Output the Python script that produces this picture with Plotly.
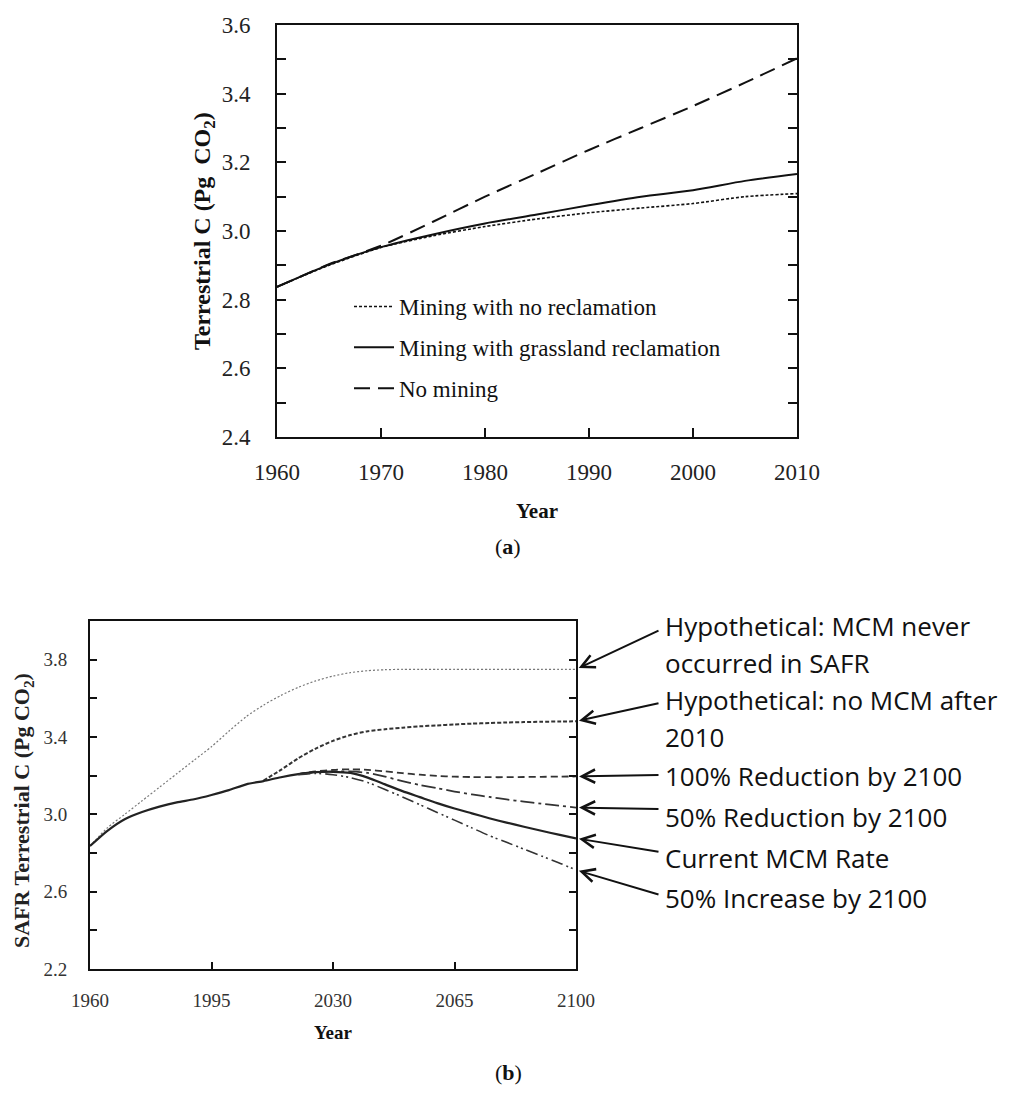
import plotly.graph_objects as go

# ---------------- data: panel (a) ----------------
years_a = [1960, 1965, 1970, 1975, 1980, 1985, 1990, 1995, 2000, 2005, 2010]
no_reclamation = [2.837, 2.900, 2.952, 2.986, 3.013, 3.035, 3.053, 3.067, 3.080, 3.100, 3.109]
grassland_reclamation = [2.837, 2.902, 2.953, 2.990, 3.022, 3.048, 3.075, 3.100, 3.119, 3.146, 3.166]
no_mining = [2.837, 2.903, 2.957, 3.027, 3.100, 3.168, 3.236, 3.300, 3.364, 3.432, 3.503]
names_a = ["Mining with no reclamation", "Mining with grassland reclamation", "No mining"]

# ---------------- data: panel (b) ----------------
years_b = [1960, 1965, 1970, 1975, 1980, 1985, 1990, 1995, 2000, 2005, 2010, 2015, 2020, 2025,
           2030, 2035, 2040, 2045, 2050, 2055, 2060, 2065, 2070, 2075, 2080, 2085, 2090, 2095, 2100]
current_rate = [2.836, 2.915, 2.975, 3.012, 3.040, 3.062, 3.078, 3.100, 3.125, 3.155, 3.172, 3.192,
                3.208, 3.218, 3.220, 3.214, 3.190, 3.155, 3.120, 3.089, 3.058, 3.030, 3.005, 2.980,
                2.957, 2.936, 2.915, 2.895, 2.876]
never_occurred = [2.836, 2.930, 3.000, 3.070, 3.140, 3.210, 3.280, 3.350, 3.430, 3.505, 3.565, 3.615,
                  3.657, 3.690, 3.715, 3.733, 3.743, 3.748, 3.750, 3.750, 3.750, 3.750, 3.750, 3.750,
                  3.750, 3.750, 3.750, 3.750, 3.750]
years_after2010 = [2010, 2015, 2020, 2025, 2030, 2035, 2040, 2045, 2050, 2055, 2060, 2065, 2070,
                   2075, 2080, 2085, 2090, 2095, 2100]
no_mcm_after2010 = [3.175, 3.230, 3.290, 3.340, 3.380, 3.410, 3.430, 3.440, 3.448, 3.455, 3.460,
                    3.465, 3.469, 3.472, 3.475, 3.477, 3.479, 3.480, 3.481]
years_after2020 = [2020, 2025, 2030, 2035, 2040, 2045, 2050, 2055, 2060, 2065, 2070, 2075, 2080,
                   2085, 2090, 2095, 2100]
reduction_100 = [3.208, 3.222, 3.230, 3.233, 3.230, 3.222, 3.213, 3.205, 3.199, 3.195, 3.193, 3.192,
                 3.192, 3.193, 3.194, 3.195, 3.196]
reduction_50 = [3.208, 3.218, 3.222, 3.222, 3.214, 3.195, 3.172, 3.152, 3.135, 3.118, 3.103, 3.090,
                3.077, 3.066, 3.055, 3.045, 3.035]
increase_50 = [3.205, 3.212, 3.205, 3.190, 3.165, 3.128, 3.090, 3.050, 3.010, 2.970, 2.930, 2.890,
               2.855, 2.820, 2.785, 2.750, 2.712]
labels_b = [["Hypothetical: MCM never", "occurred in SAFR"],
            ["Hypothetical: no MCM after", "2010"],
            ["100% Reduction by 2100"],
            ["50% Reduction by 2100"],
            ["Current MCM Rate"],
            ["50% Increase by 2100"]]

# ---------------- layout geometry (pixels) ----------------
W, H = 1017, 1097
A_L, A_R, A_T, A_B = 277, 797, 25, 437
B_L, B_R, B_T, B_B = 90, 576, 621, 969
A_YR = [2.4, 3.6]
B_YR = [2.2, 4.0]

def fx(p):
    return p / W

def fy(p):
    return 1 - p / H

SERIF = "Liberation Serif, Times New Roman, serif"
SANS = "Open Sans, Lato, sans-serif"

fig = go.Figure()

# panel (a)
fig.add_trace(go.Scatter(x=years_a, y=no_reclamation, name=names_a[0], mode="lines",
                         line=dict(color="#111", width=1.6, dash="3px,2px", shape="spline", smoothing=0.7),
                         xaxis="x", yaxis="y", legendgroup="a1"))
fig.add_trace(go.Scatter(x=years_a, y=grassland_reclamation, name=names_a[1], mode="lines",
                         line=dict(color="#111", width=2, shape="spline", smoothing=0.7),
                         xaxis="x", yaxis="y", legendgroup="a2"))
fig.add_trace(go.Scatter(x=years_a, y=no_mining, name=names_a[2], mode="lines",
                         line=dict(color="#111", width=2, dash="16px,8px", shape="spline", smoothing=0.7),
                         xaxis="x", yaxis="y", legendgroup="a3"))

# panel (b)
b_series = [
    (years_b, never_occurred, dict(color="#777", width=1.2, dash="2px,2px")),
    (years_after2010, no_mcm_after2010, dict(color="#333", width=2, dash="4px,2px")),
    (years_after2020, reduction_100, dict(color="#333", width=1.8, dash="7px,4px")),
    (years_after2020, reduction_50, dict(color="#333", width=1.8, dash="14px,4px,3px,4px")),
    (years_b, current_rate, dict(color="#222", width=2.2)),
    (years_after2020, increase_50, dict(color="#333", width=1.6, dash="12px,4px,2px,3px,2px,4px")),
]
for xs, ys, ln in b_series:
    ln = dict(ln, shape="spline", smoothing=0.7)
    fig.add_trace(go.Scatter(x=xs, y=ys, mode="lines", line=ln, showlegend=False,
                             xaxis="x2", yaxis="y2"))

axis_common = dict(showgrid=False, zeroline=False, showline=True, linecolor="#111",
                   ticks="inside", tickcolor="#111", automargin=False)

fig.update_layout(
    width=W, height=H, margin=dict(l=0, r=0, t=0, b=0, autoexpand=False),
    paper_bgcolor="white", plot_bgcolor="white",
    xaxis=dict(axis_common, domain=[fx(A_L), fx(A_R)], range=[1960, 2010], dtick=10, tick0=1960,
               linewidth=2, mirror=True, ticklen=9, tickwidth=1.5,
               tickfont=dict(family=SERIF, size=23, color="#222"), ticklabelstandoff=13,
               anchor="y"),
    yaxis=dict(axis_common, domain=[fy(A_B), fy(A_T)], range=A_YR, dtick=0.2, tick0=2.4,
               tickformat=".1f", linewidth=2, mirror="ticks", ticklen=9, tickwidth=1.5,
               minor=dict(dtick=0.1, ticks="inside", ticklen=9, tickwidth=1.5, tickcolor="#111"),
               tickfont=dict(family=SERIF, size=23, color="#222"), ticklabelstandoff=20,
               anchor="x"),
    xaxis2=dict(axis_common, domain=[fx(B_L), fx(B_R)], range=[1960, 2100], dtick=35, tick0=1960,
                linewidth=1.8, mirror=True, ticklen=7, tickwidth=1.5,
                tickfont=dict(family=SERIF, size=19, color="#333"), ticklabelstandoff=13,
                anchor="y2"),
    yaxis2=dict(axis_common, domain=[fy(B_B), fy(B_T)], range=B_YR, dtick=0.4, tick0=2.2,
                tickformat=".1f", linewidth=1.8, mirror="ticks", ticklen=7, tickwidth=1.5,
                minor=dict(dtick=0.2, ticks="inside", ticklen=7, tickwidth=1.5, tickcolor="#111"),
                tickfont=dict(family=SERIF, size=19, color="#333"), ticklabelstandoff=17,
                anchor="x2"),
    legend=dict(x=fx(349), y=fy(285), xanchor="left", yanchor="top", bgcolor="rgba(0,0,0,0)",
                font=dict(family=SERIF, size=23, color="#111"), traceorder="grouped",
                tracegroupgap=8, itemwidth=40),
    showlegend=True,
)

ann = []
def txt(text, xp, yp, size, color="#111", angle=0, family=SERIF):
    ann.append(dict(text=text, x=fx(xp), y=fy(yp), xref="paper", yref="paper",
                    xanchor="center", yanchor="middle", showarrow=False, textangle=angle,
                    font=dict(family=family, size=size, color=color)))

# axis titles and panel captions
txt("<b>Terrestrial C (Pg  CO<sub>2</sub>)</b>", 204, 231, 24, angle=-90)
txt("<b>Year</b>", 537, 511, 21)
txt("(<b>a</b>)", 508, 546, 22)
txt("<b>SAFR Terrestrial C (Pg CO<sub>2</sub>)</b>", 23, 811, 22, color="#222", angle=-90)
txt("<b>Year</b>", 333, 1032, 19)
txt("(<b>b</b>)", 508, 1072, 22)

# right-hand labels for panel (b)
text_rows = [[626, 663], [700, 737], [776], [817], [858], [898]]
tail_rows = [630, 703, 775, 809, 852, 895]
end_values = [never_occurred[-1], no_mcm_after2010[-1], reduction_100[-1], reduction_50[-1],
              current_rate[-1], increase_50[-1]]
TEXT_X = 663
for lines, rows in zip(labels_b, text_rows):
    for t, r in zip(lines, rows):
        ann.append(dict(text=t, x=fx(TEXT_X), y=fy(r), xref="paper", yref="paper",
                        xanchor="left", yanchor="middle", showarrow=False,
                        font=dict(family=SANS, size=26, color="#111")))

def b_value_to_px(v):
    return B_B - (v - B_YR[0]) / (B_YR[1] - B_YR[0]) * (B_B - B_T)

for v, tail in zip(end_values, tail_rows):
    ann.append(dict(text="", x=2100, y=v, xref="x2", yref="y2", showarrow=True,
                    ax=TEXT_X - 3 - B_R, ay=tail - b_value_to_px(v), axref="pixel", ayref="pixel",
                    arrowhead=5, arrowsize=1.3, arrowwidth=2, arrowcolor="#111", standoff=3))

fig.update_layout(annotations=ann)
fig.write_html("out.html")
